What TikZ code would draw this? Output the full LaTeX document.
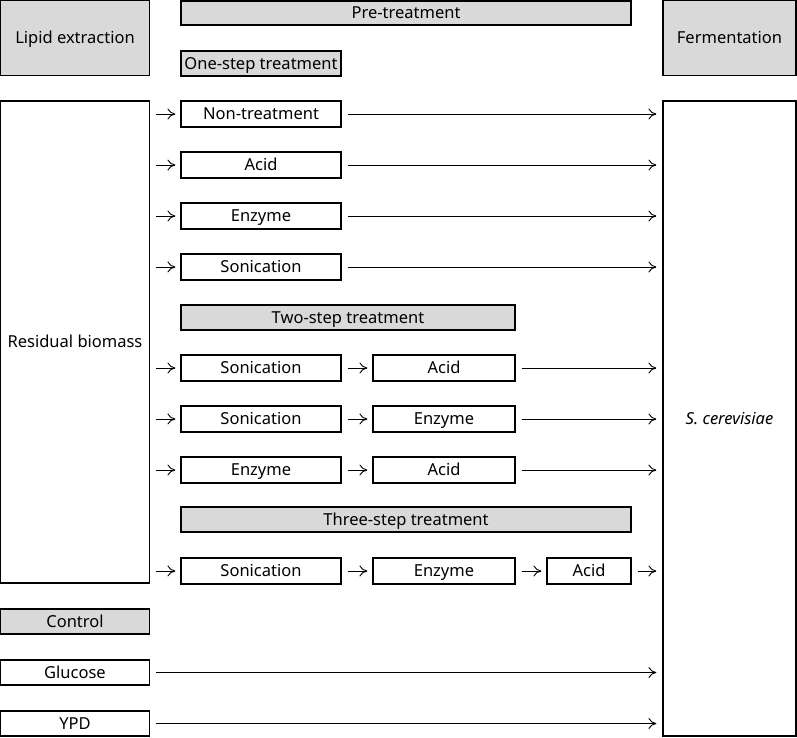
\documentclass[tikz,border=0pt]{standalone}
\usepackage{fontspec}
\setmainfont{Noto Sans}
\usetikzlibrary{arrows.meta,positioning}

\begin{document}
\begin{tikzpicture}[x=1pt,y=-1pt,
every node/.style={draw,line width=1.2pt,inner sep=0pt,text height=12pt,text depth=1pt,
  font=\fontsize{16.5}{19}\selectfont},
head/.style={fill=gray!30},
trt/.style={minimum width=160pt,minimum height=26pt},
flow/.style={-{To[length=8pt,width=11pt]},line width=0.9pt}]
\useasboundingbox (0,0) rectangle (797,737);
% top row
\node[head,minimum width=149pt,minimum height=75pt] (lipid) at (75,38) {Lipid extraction};
\node[head,minimum width=450pt,minimum height=24pt] (pre) at (406,13) {Pre-treatment};
\node[head,minimum width=133pt,minimum height=75pt] (ferm) at (729.5,38) {Fermentation};
\node[minimum width=149pt,minimum height=482pt] (res) at (75,342) {Residual biomass};
\node[minimum width=133pt,minimum height=635pt] (sc) at (729.5,418.5) {\itshape S. cerevisiae};
% one-step
\node[head,minimum width=160pt,minimum height=25pt] (one) at (261,63.5) {One-step treatment};
\node[trt] (A1) at (261,114) {Non-treatment};
\node[trt] (A2) at (261,165) {Acid};
\node[trt] (A3) at (261,216) {Enzyme};
\node[trt] (A4) at (261,267) {Sonication};
% two-step
\node[head,minimum width=334pt,minimum height=25pt] (two) at (348,317.5) {Two-step treatment};
\node[trt] (B1) at (261,368) {Sonication};
\node[trt,minimum width=142pt] (B2) at (444,368) {Acid};
\node[trt] (C1) at (261,419) {Sonication};
\node[trt,minimum width=142pt] (C2) at (444,419) {Enzyme};
\node[trt] (D1) at (261,470) {Enzyme};
\node[trt,minimum width=142pt] (D2) at (444,470) {Acid};
% three-step
\node[head,minimum width=450pt,minimum height=25pt] (three) at (406,519.5) {Three-step treatment};
\node[trt] (E1) at (261,571) {Sonication};
\node[trt,minimum width=142pt] (E2) at (444,571) {Enzyme};
\node[trt,minimum width=84pt] (E3) at (589,571) {Acid};
% control
\node[head,minimum width=149pt,minimum height=25pt] (ctrl) at (75,621.5) {Control};
\node[minimum width=149pt,minimum height=25pt] (glu) at (75,672.5) {Glucose};
\node[minimum width=149pt,minimum height=25pt] (ypd) at (75,723.5) {YPD};
% arrows
\foreach \n in {A1,A2,A3,A4,B1,C1,D1,E1}
  \draw[flow,shorten <=6pt,shorten >=5pt] (res.east |- \n.west) -- (\n.west);
\foreach \n in {A1,A2,A3,A4,B2,C2,D2,E3,glu,ypd}
  \draw[flow,shorten <=6pt,shorten >=6pt] (\n.east) -- (sc.west |- \n.east);
\draw[flow,shorten <=6pt,shorten >=5pt] (B1)--(B2);
\draw[flow,shorten <=6pt,shorten >=5pt] (C1)--(C2);
\draw[flow,shorten <=6pt,shorten >=5pt] (D1)--(D2);
\draw[flow,shorten <=6pt,shorten >=5pt] (E1)--(E2);
\draw[flow,shorten <=6pt,shorten >=5pt] (E2)--(E3);
\end{tikzpicture}
\end{document}
